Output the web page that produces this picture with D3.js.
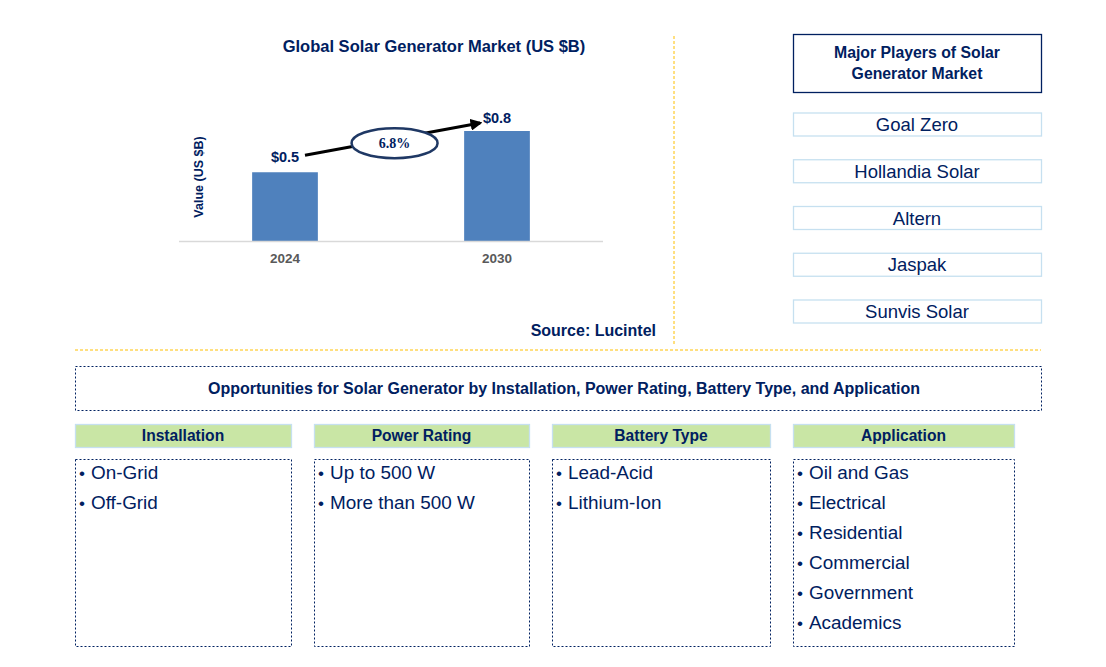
<!DOCTYPE html>
<html>
<head>
<meta charset="utf-8">
<script src="https://cdn.jsdelivr.net/npm/d3@7"></script>
<style>
  body { margin: 0; background: #fff; }
  svg text { font-family: "Liberation Sans", Arial, sans-serif; }
</style>
</head>
<body>
<div id="chart"></div>
<script>
// chart values
const years = ["2024", "2030"];
const values = [0.5, 0.8];
const valueLabels = ["$0.5", "$0.8"];
const cagrLabel = "6.8%";

// right panel
const players = ["Goal Zero", "Hollandia Solar", "Altern", "Jaspak", "Sunvis Solar"];

// segments
const segments = ["Installation", "Power Rating", "Battery Type", "Application"];
const installation = ["On-Grid", "Off-Grid"];
const powerRating = ["Up to 500 W", "More than 500 W"];
const batteryType = ["Lead-Acid", "Lithium-Ion"];
const application = ["Oil and Gas", "Electrical", "Residential", "Commercial", "Government", "Academics"];
const segmentItems = [installation, powerRating, batteryType, application];

const navy = "#002060";
const W = 1106, H = 667;

const svg = d3.select("#chart").append("svg")
    .attr("width", W)
    .attr("height", H);

// separators (yellow dashed)
svg.append("line")
    .attr("x1", 674).attr("x2", 674).attr("y1", 36).attr("y2", 346)
    .attr("stroke", "#ffc000").attr("stroke-width", 1).attr("stroke-dasharray", "3,2");
svg.append("line")
    .attr("x1", 75).attr("x2", 1041).attr("y1", 350).attr("y2", 350)
    .attr("stroke", "#ffc000").attr("stroke-width", 1).attr("stroke-dasharray", "3,2");

// ---- bar chart ----
svg.append("text")
    .attr("x", 434).attr("y", 52)
    .attr("text-anchor", "middle")
    .attr("font-size", 16.5).attr("font-weight", "bold")
    .attr("fill", navy)
    .text("Global Solar Generator Market (US $B)");

let x = d3.scaleBand()
    .domain(years)
    .range([179, 603])
    .paddingInner(0.69)
    .paddingOuter(0.345);

let y = d3.scaleLinear()
    .domain([0, 0.8])
    .range([241, 131]);

svg.selectAll(".bar")
    .data(values)
    .join("rect")
    .attr("class", "bar")
    .attr("x", (d, i) => x(years[i]))
    .attr("y", d => y(d))
    .attr("width", x.bandwidth())
    .attr("height", d => y(0) - y(d))
    .attr("fill", "#4f81bd");

// baseline
svg.append("line")
    .attr("x1", 179).attr("x2", 603).attr("y1", y(0) + 0.5).attr("y2", y(0) + 0.5)
    .attr("stroke", "#d9d9d9").attr("stroke-width", 1.5);

// x axis labels
svg.selectAll(".xlab")
    .data(years)
    .join("text")
    .attr("class", "xlab")
    .attr("x", d => x(d) + x.bandwidth() / 2)
    .attr("y", 263)
    .attr("text-anchor", "middle")
    .attr("font-size", 13.5).attr("font-weight", "bold")
    .attr("fill", "#595959")
    .text(d => d);

// y axis title
svg.append("text")
    .attr("transform", "translate(203,177) rotate(-90)")
    .attr("text-anchor", "middle")
    .attr("font-size", 12.5).attr("font-weight", "bold")
    .attr("fill", navy)
    .text("Value (US $B)");

// value labels
const labelPos = [
    {dx: 0, dy: -10},
    {dx: 0, dy: -8}
];
svg.selectAll(".vlab")
    .data(values)
    .join("text")
    .attr("class", "vlab")
    .attr("x", (d, i) => x(years[i]) + x.bandwidth() / 2 + labelPos[i].dx)
    .attr("y", (d, i) => y(d) + labelPos[i].dy)
    .attr("text-anchor", "middle")
    .attr("font-size", 14.5).attr("font-weight", "bold")
    .attr("fill", navy)
    .text((d, i) => valueLabels[i]);

// growth arrow
svg.append("defs").append("marker")
    .attr("id", "arrowhead")
    .attr("viewBox", "0 0 10 10")
    .attr("refX", 8).attr("refY", 5)
    .attr("markerWidth", 4).attr("markerHeight", 4)
    .attr("orient", "auto")
    .append("path")
    .attr("d", "M0,0 L10,5 L0,10 z")
    .attr("fill", "#000");

let ax1 = x(years[0]) + x.bandwidth() / 2 + 20, ay1 = y(values[0]) - 17;
let ax2 = x(years[1]) + 16, ay2 = y(values[1]) - 8;
svg.append("line")
    .attr("x1", ax1).attr("y1", ay1)
    .attr("x2", ax2).attr("y2", ay2)
    .attr("stroke", "#000").attr("stroke-width", 3)
    .attr("marker-end", "url(#arrowhead)");

let ex = (ax1 + ax2) / 2 + 2, ey = (ay1 + ay2) / 2 + 4;
svg.append("ellipse")
    .attr("cx", ex).attr("cy", ey)
    .attr("rx", 43).attr("ry", 15)
    .attr("fill", "#fff")
    .attr("stroke", "#1f3864").attr("stroke-width", 2.5);
svg.append("text")
    .attr("x", ex).attr("y", ey + 5)
    .attr("text-anchor", "middle")
    .attr("font-size", 14).attr("font-weight", "bold")
    .attr("fill", navy)
    .style("font-family", "'Liberation Serif', 'Times New Roman', serif")
    .text(cagrLabel);

svg.append("text")
    .attr("x", 656).attr("y", 336)
    .attr("text-anchor", "end")
    .attr("font-size", 16).attr("font-weight", "bold")
    .attr("fill", navy)
    .text("Source: Lucintel");

// ---- major players ----
svg.append("rect")
    .attr("x", 793.5).attr("y", 34.5).attr("width", 248).attr("height", 58)
    .attr("fill", "#fff").attr("stroke", navy).attr("stroke-width", 1.3);
svg.append("text")
    .attr("x", 917).attr("y", 58)
    .attr("text-anchor", "middle")
    .attr("font-size", 15.8).attr("font-weight", "bold")
    .attr("fill", navy)
    .selectAll("tspan")
    .data(["Major Players of Solar", "Generator Market"])
    .join("tspan")
    .attr("x", 917)
    .attr("dy", (d, i) => i === 0 ? 0 : 21)
    .text(d => d);

let py = d3.scalePoint()
    .domain(players)
    .range([124.5, 311.5]);

let pg = svg.selectAll(".player")
    .data(players)
    .join("g")
    .attr("class", "player");
pg.append("rect")
    .attr("x", 793.5).attr("y", d => py(d) - 11.5)
    .attr("width", 248).attr("height", 23)
    .attr("fill", "#fff").attr("stroke", "#c6e0f0").attr("stroke-width", 1.3);
pg.append("text")
    .attr("x", 917).attr("y", d => py(d) + 6.5)
    .attr("text-anchor", "middle")
    .attr("font-size", 18.5)
    .attr("fill", navy)
    .text(d => d);

// ---- opportunities ----
svg.append("rect")
    .attr("x", 75.5).attr("y", 366.5).attr("width", 966).attr("height", 44)
    .attr("fill", "none").attr("stroke", navy).attr("stroke-width", 1)
    .attr("stroke-dasharray", "2,2");
svg.append("text")
    .attr("x", 564).attr("y", 394)
    .attr("text-anchor", "middle")
    .attr("font-size", 16).attr("font-weight", "bold")
    .attr("fill", navy)
    .text("Opportunities for Solar Generator by Installation, Power Rating, Battery Type, and Application");

const colX = [75, 314, 552, 793];
const colW = [216, 215, 218, 221];

let cols = svg.selectAll(".seg")
    .data(segments)
    .join("g")
    .attr("class", "seg");

cols.append("rect")
    .attr("x", (d, i) => colX[i] + 0.5).attr("y", 424.5)
    .attr("width", (d, i) => colW[i]).attr("height", 23)
    .attr("fill", "#c9e6a5").attr("stroke", "#c6e0f0").attr("stroke-width", 1.3);
cols.append("text")
    .attr("x", (d, i) => colX[i] + colW[i] / 2).attr("y", 441)
    .attr("text-anchor", "middle")
    .attr("font-size", 15.6).attr("font-weight", "bold")
    .attr("fill", navy)
    .text(d => d);

cols.append("rect")
    .attr("x", (d, i) => colX[i] + 0.5).attr("y", 459.5)
    .attr("width", (d, i) => colW[i]).attr("height", 187)
    .attr("fill", "none").attr("stroke", navy).attr("stroke-width", 1)
    .attr("stroke-dasharray", "2,2");

cols.each(function(d, i) {
    let g = d3.select(this);
    let items = g.selectAll(".item")
        .data(segmentItems[i])
        .join("g")
        .attr("class", "item");
    items.append("text")
        .attr("x", colX[i] + 4)
        .attr("y", (t, j) => 478.5 + j * 30)
        .attr("font-size", 17)
        .attr("fill", navy)
        .text("\u2022");
    items.append("text")
        .attr("x", colX[i] + 16)
        .attr("y", (t, j) => 479 + j * 30)
        .attr("font-size", 18.9)
        .attr("fill", navy)
        .text(t => t);
});
</script>
</body>
</html>
